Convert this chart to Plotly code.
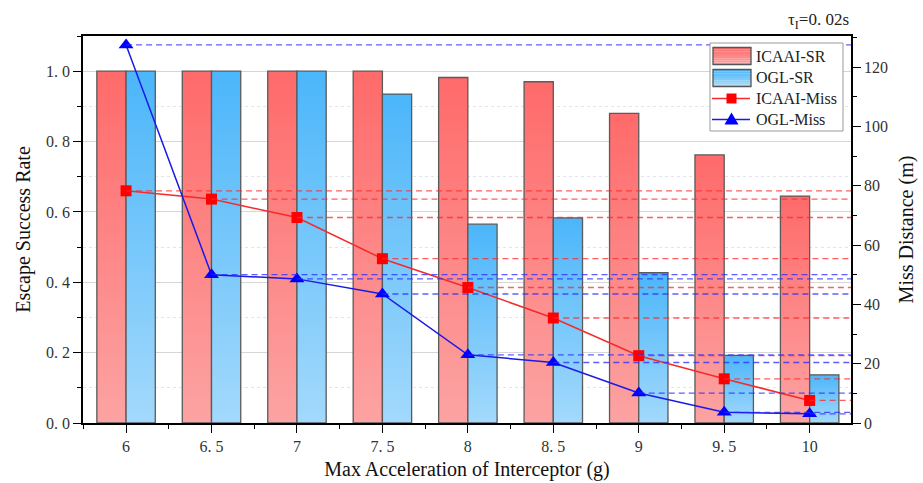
import plotly.graph_objects as go

accel = [6, 6.5, 7, 7.5, 8, 8.5, 9, 9.5, 10]
tick_text = ["6", "6. 5", "7", "7. 5", "8", "8. 5", "9", "9. 5", "10"]
icaai_sr = [1.0, 1.0, 1.0, 1.0, 0.982, 0.97, 0.88, 0.762, 0.645]
ogl_sr = [1.0, 1.0, 1.0, 0.935, 0.565, 0.583, 0.427, 0.192, 0.137]
icaai_miss = [78.3, 75.5, 69.3, 55.4, 45.7, 35.4, 22.7, 14.9, 7.6]
ogl_miss = [127.5, 50.0, 48.6, 43.5, 23.0, 20.4, 10.1, 3.6, 3.1]
left_ticks = [0, 0.2, 0.4, 0.6, 0.8, 1.0]
left_ticktext = ["0. 0", "0. 2", "0. 4", "0. 6", "0. 8", "1. 0"]
legend_names = ["ICAAI-SR", "OGL-SR", "ICAAI-Miss", "OGL-Miss"]

FONT = "Liberation Serif"
BAR_W = 0.171
XMAX = 10.242
RED_TOP, RED_BOT = (255, 106, 106), (252, 163, 163)
BLUE_TOP, BLUE_BOT = (75, 182, 250), (163, 217, 252)

# plot area in pixels (for the hand-made legend)
PL, PR, PT, PB = 83, 851, 36, 423


def px(x):
    return (x - PL) / (PR - PL)


def py(y):
    return (PB - y) / (PB - PT)


def rgb(c):
    return "rgb(%d,%d,%d)" % c


fig = go.Figure()


def add_bars(values, offset, name, top, bottom):
    for i, (xv, v) in enumerate(zip(accel, values)):
        xl = xv + offset - BAR_W / 2
        xr = xv + offset + BAR_W / 2
        fig.add_trace(go.Scatter(
            x=[xl, xl, xr, xr, xl], y=[0, v, v, 0, 0],
            mode="lines", fill="toself",
            fillgradient=dict(type="vertical", colorscale=[[0, rgb(bottom)], [1, rgb(top)]]),
            line=dict(color="#5a5a5a", width=1.3),
            name=name, showlegend=False, hoverinfo="skip",
        ))


add_bars(icaai_sr, -BAR_W / 2, legend_names[0], RED_TOP, RED_BOT)
add_bars(ogl_sr, BAR_W / 2, legend_names[1], BLUE_TOP, BLUE_BOT)

fig.add_trace(go.Scatter(
    x=accel, y=icaai_miss, yaxis="y2", name=legend_names[2],
    mode="lines+markers", line=dict(color="#F52A2A", width=1.5),
    marker=dict(symbol="square", size=11, color="#FF0000"), showlegend=False,
))
fig.add_trace(go.Scatter(
    x=accel, y=ogl_miss, yaxis="y2", name=legend_names[3],
    mode="lines+markers", line=dict(color="#1A1AE6", width=1.5),
    marker=dict(symbol="triangle-up", size=13, color="#0000FF"), showlegend=False,
))

shapes = []
for xv, v in zip(accel, icaai_miss):
    shapes.append(dict(type="line", xref="x", yref="y2", x0=xv, x1=XMAX, y0=v, y1=v,
                       line=dict(color="rgba(255,40,40,0.75)", width=1.3, dash="6px,4px"),
                       layer="above"))
for xv, v in zip(accel, ogl_miss):
    shapes.append(dict(type="line", xref="x", yref="y2", x0=xv, x1=XMAX, y0=v, y1=v,
                       line=dict(color="rgba(40,40,255,0.75)", width=1.3, dash="6px,4px"),
                       layer="above"))

# ---- hand-made legend (paper coordinates) ----
annotations = []
shapes.append(dict(type="rect", xref="paper", yref="paper",
                   x0=px(710), x1=px(843), y0=py(131), y1=py(43),
                   fillcolor="white", line=dict(color="#9a9a9a", width=1), layer="above"))


def grad_rect(x0, x1, y0, y1, top, bot, n=8):
    h = (y1 - y0) / n
    for k in range(n):
        t = (k + 0.5) / n
        c = tuple(int(round(top[j] + (bot[j] - top[j]) * t)) for j in range(3))
        shapes.append(dict(type="rect", xref="paper", yref="paper",
                           x0=px(x0), x1=px(x1), y0=py(y0 + (k + 1) * h), y1=py(y0 + k * h),
                           fillcolor=rgb(c), line=dict(width=0), layer="above"))
    shapes.append(dict(type="rect", xref="paper", yref="paper",
                       x0=px(x0), x1=px(x1), y0=py(y1), y1=py(y0),
                       fillcolor="rgba(0,0,0,0)", line=dict(color="#555", width=1.3),
                       layer="above"))


grad_rect(713, 751, 47.5, 64.5, RED_TOP, RED_BOT)
grad_rect(713, 751, 69.5, 86.5, BLUE_TOP, BLUE_BOT)
# line samples
shapes.append(dict(type="line", xref="paper", yref="paper", x0=px(712), x1=px(750),
                   y0=py(98.5), y1=py(98.5), line=dict(color="#F52A2A", width=1.5), layer="above"))
shapes.append(dict(type="line", xref="paper", yref="paper", x0=px(712), x1=px(750),
                   y0=py(119.5), y1=py(119.5), line=dict(color="#1A1AE6", width=1.5), layer="above"))
shapes.append(dict(type="rect", xref="paper", yref="paper", x0=px(726.5), x1=px(736.5),
                   y0=py(103.5), y1=py(93.5), fillcolor="#FF0000", line=dict(width=0), layer="above"))
tri = "M %f %f L %f %f L %f %f Z" % (px(724.5), py(124.5), px(738.5), py(124.5), px(731.5), py(112.5))
shapes.append(dict(type="path", xref="paper", yref="paper", path=tri,
                   fillcolor="#0000FF", line=dict(width=0), layer="above"))
for name, yc in zip(legend_names, [56, 77.5, 98.5, 119.5]):
    annotations.append(dict(text=name, xref="paper", yref="paper", x=px(754), y=py(yc),
                            xanchor="left", yanchor="middle", showarrow=False,
                            font=dict(family=FONT, size=16, color="#222")))

annotations.append(dict(text="τ<sub>I</sub>=0. 02s", xref="paper", yref="paper",
                        x=1.0, y=1.0, xanchor="right", yanchor="bottom", yshift=2,
                        showarrow=False, font=dict(family=FONT, size=17, color="#222")))

fig.update_layout(
    width=923, height=483,
    margin=dict(l=PL, r=923 - PR, t=PT, b=483 - PB, autoexpand=False),
    paper_bgcolor="white", plot_bgcolor="white",
    font=dict(family=FONT, color="#222"),
    shapes=shapes,
    annotations=annotations,
    showlegend=False,
    xaxis=dict(
        range=[5.748, XMAX], tickmode="array", tickvals=accel, ticktext=tick_text,
        showline=True, linecolor="black", linewidth=1.5, mirror=True,
        ticks="outside", ticklen=8, tickcolor="black", tickwidth=1.2,
        minor=dict(dtick=0.25, tick0=6, ticks="outside", ticklen=4, tickcolor="black"),
        showgrid=False, zeroline=False, automargin=False,
        tickfont=dict(family=FONT, size=16, color="#333"),
        title=dict(text="Max Acceleration of Interceptor (g)",
                   font=dict(family=FONT, size=20, color="#111"), standoff=8),
    ),
    yaxis=dict(
        range=[0, 1.1], tickmode="array", tickvals=left_ticks, ticktext=left_ticktext,
        showline=True, linecolor="black", linewidth=1.5,
        ticks="outside", ticklen=8, tickcolor="black", tickwidth=1.2,
        showgrid=True, gridcolor="#d6d6d6", gridwidth=1, zeroline=False, automargin=False,
        minor=dict(dtick=0.1, tick0=0, ticks="outside", ticklen=4, tickcolor="black",
                   showgrid=True, gridcolor="#e4e4e4", griddash="dot"),
        tickfont=dict(family=FONT, size=16, color="#333"),
        title=dict(text="Escape Success Rate", font=dict(family=FONT, size=20, color="#111"),
                   standoff=10),
    ),
    yaxis2=dict(
        range=[0, 130.5], overlaying="y", side="right",
        tickmode="array", tickvals=[0, 20, 40, 60, 80, 100, 120],
        showline=True, linecolor="black", linewidth=1.5,
        ticks="outside", ticklen=8, tickcolor="black", tickwidth=1.2,
        minor=dict(dtick=10, tick0=0, ticks="outside", ticklen=4, tickcolor="black"),
        showgrid=False, zeroline=False, automargin=False,
        tickfont=dict(family=FONT, size=16, color="#333"),
        title=dict(text="Miss Distance (m)", font=dict(family=FONT, size=20, color="#111"),
                   standoff=12),
    ),
)

fig.write_html("out.html")
